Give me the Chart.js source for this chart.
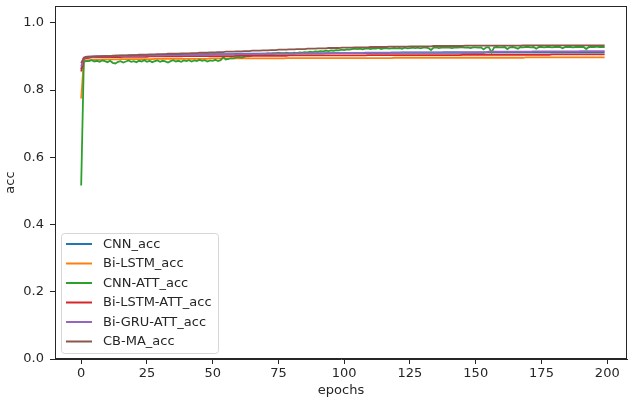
<!DOCTYPE html>
<html>
<head>
<meta charset="utf-8">
<script src="https://cdn.jsdelivr.net/npm/chart.js@4.4.1/dist/chart.umd.min.js"></script>
<style>
html,body{margin:0;padding:0;background:#fff;}
#wrap{width:628px;height:399px;}
</style>
</head>
<body>
<div id="wrap"><canvas id="c" width="628" height="399"></canvas></div>
<script>
const epochs = Array.from({length: 200}, (_, i) => i);
const xTicks = [0, 25, 50, 75, 100, 125, 150, 175, 200];
const yTicks = [0.0, 0.2, 0.4, 0.6, 0.8, 1.0];
const seriesNames = ["CNN_acc", "Bi-LSTM_acc", "CNN-ATT_acc", "Bi-LSTM-ATT_acc", "Bi-GRU-ATT_acc", "CB-MA_acc"];
const seriesColors = ["#1f77b4", "#ff7f0e", "#2ca02c", "#d62728", "#9467bd", "#8c564b"];

const cnnAcc = [
0.862,0.894,0.897,0.898,0.899,0.899,0.900,0.900,0.900,0.901,
0.901,0.901,0.901,0.902,0.902,0.902,0.902,0.902,0.903,0.903,
0.903,0.903,0.903,0.903,0.904,0.904,0.904,0.904,0.904,0.904,
0.904,0.905,0.905,0.905,0.905,0.905,0.905,0.905,0.905,0.906,
0.906,0.906,0.906,0.906,0.906,0.906,0.906,0.906,0.907,0.907,
0.907,0.907,0.907,0.907,0.907,0.907,0.907,0.907,0.907,0.908,
0.908,0.908,0.908,0.908,0.908,0.908,0.908,0.908,0.908,0.908,
0.908,0.908,0.908,0.908,0.909,0.909,0.909,0.909,0.909,0.909,
0.909,0.909,0.909,0.909,0.909,0.909,0.909,0.909,0.909,0.909,
0.909,0.909,0.909,0.910,0.910,0.910,0.910,0.910,0.910,0.910,
0.910,0.910,0.910,0.910,0.910,0.910,0.910,0.910,0.910,0.910,
0.910,0.910,0.910,0.910,0.910,0.910,0.910,0.910,0.911,0.911,
0.911,0.911,0.911,0.911,0.911,0.911,0.911,0.911,0.911,0.911,
0.911,0.911,0.911,0.911,0.911,0.911,0.911,0.911,0.911,0.911,
0.911,0.911,0.911,0.911,0.911,0.911,0.911,0.911,0.911,0.911,
0.911,0.911,0.911,0.911,0.912,0.912,0.912,0.912,0.912,0.912,
0.912,0.912,0.912,0.912,0.912,0.912,0.912,0.912,0.912,0.912,
0.912,0.912,0.912,0.912,0.912,0.912,0.912,0.912,0.912,0.912,
0.912,0.912,0.912,0.912,0.912,0.912,0.912,0.912,0.912,0.912,
0.912,0.912,0.912,0.912,0.912,0.912,0.912,0.912,0.912,0.912
];

const biLstmAcc = [
0.775,0.884,0.888,0.889,0.890,0.890,0.890,0.890,0.891,0.891,
0.891,0.891,0.891,0.891,0.891,0.892,0.892,0.892,0.892,0.892,
0.892,0.892,0.892,0.892,0.892,0.892,0.892,0.892,0.893,0.893,
0.893,0.893,0.893,0.893,0.893,0.893,0.893,0.893,0.893,0.893,
0.893,0.893,0.893,0.893,0.893,0.893,0.893,0.893,0.893,0.894,
0.894,0.894,0.894,0.894,0.894,0.894,0.894,0.894,0.894,0.894,
0.894,0.894,0.894,0.894,0.894,0.894,0.894,0.894,0.894,0.894,
0.894,0.894,0.894,0.894,0.894,0.894,0.894,0.894,0.895,0.895,
0.895,0.895,0.895,0.895,0.895,0.895,0.895,0.895,0.895,0.895,
0.895,0.895,0.895,0.895,0.895,0.895,0.895,0.895,0.895,0.895,
0.895,0.895,0.895,0.895,0.895,0.895,0.895,0.895,0.895,0.895,
0.895,0.895,0.895,0.895,0.895,0.895,0.895,0.895,0.895,0.896,
0.896,0.896,0.896,0.896,0.896,0.896,0.896,0.896,0.896,0.896,
0.896,0.896,0.896,0.896,0.896,0.896,0.896,0.896,0.896,0.896,
0.896,0.896,0.896,0.896,0.896,0.896,0.896,0.896,0.896,0.896,
0.896,0.896,0.896,0.896,0.896,0.896,0.896,0.896,0.896,0.896,
0.896,0.896,0.896,0.896,0.896,0.896,0.896,0.896,0.896,0.897,
0.897,0.897,0.897,0.897,0.897,0.897,0.897,0.897,0.897,0.897,
0.897,0.897,0.897,0.897,0.897,0.897,0.897,0.897,0.897,0.897,
0.897,0.897,0.897,0.897,0.897,0.897,0.897,0.897,0.897,0.897
];

const cnnAttAcc = [
0.516,0.884,0.887,0.886,0.889,0.885,0.887,0.884,0.888,0.886,
0.883,0.887,0.881,0.879,0.884,0.886,0.882,0.885,0.888,0.884,
0.886,0.883,0.887,0.885,0.889,0.884,0.887,0.883,0.886,0.888,
0.884,0.887,0.885,0.882,0.886,0.889,0.885,0.887,0.884,0.888,
0.886,0.889,0.885,0.888,0.886,0.890,0.887,0.889,0.885,0.888,
0.887,0.890,0.886,0.889,0.898,0.891,0.893,0.895,0.894,0.897,
0.898,0.896,0.899,0.901,0.900,0.903,0.905,0.904,0.906,0.908,
0.907,0.909,0.908,0.910,0.909,0.911,0.910,0.909,0.911,0.910,
0.909,0.911,0.910,0.912,0.911,0.913,0.912,0.914,0.913,0.915,
0.914,0.916,0.915,0.917,0.916,0.918,0.917,0.919,0.918,0.920,
0.919,0.921,0.920,0.922,0.923,0.922,0.923,0.921,0.923,0.924,
0.922,0.924,0.923,0.925,0.922,0.924,0.925,0.923,0.924,0.925,
0.924,0.925,0.923,0.926,0.924,0.925,0.926,0.925,0.926,0.924,
0.926,0.926,0.925,0.919,0.926,0.927,0.925,0.926,0.926,0.927,
0.926,0.925,0.927,0.926,0.927,0.927,0.926,0.927,0.925,0.927,
0.927,0.926,0.927,0.921,0.927,0.927,0.912,0.927,0.928,0.927,
0.927,0.928,0.922,0.927,0.928,0.926,0.923,0.928,0.927,0.928,
0.928,0.927,0.928,0.923,0.928,0.928,0.927,0.928,0.928,0.927,
0.928,0.928,0.928,0.924,0.928,0.928,0.928,0.927,0.928,0.928,
0.928,0.928,0.922,0.928,0.928,0.928,0.929,0.928,0.928,0.928
];

const biLstmAttAcc = [
0.855,0.892,0.895,0.896,0.897,0.897,0.897,0.897,0.898,0.898,
0.898,0.898,0.898,0.898,0.898,0.898,0.899,0.899,0.899,0.899,
0.899,0.899,0.899,0.899,0.899,0.899,0.900,0.900,0.900,0.900,
0.900,0.900,0.900,0.900,0.900,0.900,0.900,0.900,0.900,0.901,
0.901,0.901,0.901,0.901,0.901,0.901,0.901,0.901,0.901,0.901,
0.901,0.901,0.901,0.901,0.901,0.901,0.901,0.901,0.901,0.902,
0.902,0.902,0.902,0.902,0.902,0.902,0.902,0.902,0.902,0.902,
0.902,0.902,0.902,0.902,0.902,0.902,0.902,0.902,0.902,0.903,
0.903,0.903,0.903,0.903,0.903,0.903,0.903,0.903,0.903,0.903,
0.903,0.903,0.903,0.903,0.903,0.903,0.903,0.903,0.903,0.903,
0.903,0.903,0.903,0.903,0.903,0.903,0.903,0.903,0.903,0.904,
0.904,0.904,0.904,0.904,0.904,0.904,0.904,0.904,0.904,0.904,
0.904,0.904,0.904,0.904,0.904,0.904,0.904,0.904,0.904,0.904,
0.904,0.904,0.904,0.904,0.904,0.904,0.904,0.904,0.904,0.904,
0.904,0.904,0.904,0.904,0.904,0.905,0.905,0.905,0.905,0.905,
0.905,0.905,0.905,0.905,0.905,0.905,0.905,0.905,0.905,0.905,
0.905,0.905,0.905,0.905,0.905,0.905,0.905,0.905,0.905,0.905,
0.905,0.905,0.905,0.905,0.905,0.905,0.905,0.905,0.905,0.906,
0.906,0.906,0.906,0.906,0.906,0.906,0.906,0.906,0.906,0.906,
0.906,0.906,0.906,0.906,0.906,0.906,0.906,0.906,0.906,0.906
];

const biGruAttAcc = [
0.870,0.896,0.898,0.899,0.899,0.899,0.900,0.900,0.900,0.900,
0.900,0.900,0.901,0.901,0.901,0.901,0.901,0.901,0.902,0.902,
0.902,0.902,0.902,0.902,0.902,0.903,0.903,0.903,0.903,0.903,
0.903,0.903,0.904,0.904,0.904,0.904,0.904,0.904,0.904,0.904,
0.905,0.905,0.905,0.905,0.905,0.905,0.905,0.905,0.905,0.905,
0.906,0.906,0.906,0.906,0.906,0.906,0.906,0.906,0.906,0.906,
0.907,0.907,0.907,0.907,0.907,0.907,0.907,0.907,0.907,0.907,
0.908,0.908,0.908,0.908,0.908,0.908,0.908,0.908,0.908,0.908,
0.908,0.908,0.909,0.909,0.909,0.909,0.909,0.909,0.909,0.909,
0.909,0.909,0.909,0.909,0.909,0.910,0.910,0.910,0.910,0.910,
0.910,0.910,0.910,0.910,0.910,0.910,0.910,0.910,0.911,0.911,
0.911,0.911,0.911,0.911,0.911,0.911,0.911,0.911,0.911,0.911,
0.911,0.911,0.912,0.912,0.912,0.912,0.912,0.912,0.912,0.912,
0.912,0.912,0.912,0.912,0.912,0.912,0.912,0.912,0.913,0.913,
0.913,0.913,0.913,0.913,0.913,0.913,0.913,0.913,0.913,0.913,
0.913,0.913,0.913,0.913,0.913,0.914,0.914,0.914,0.914,0.914,
0.914,0.914,0.914,0.914,0.914,0.914,0.914,0.914,0.914,0.914,
0.914,0.914,0.915,0.915,0.915,0.915,0.915,0.915,0.915,0.915,
0.915,0.915,0.915,0.915,0.915,0.915,0.915,0.915,0.915,0.915,
0.916,0.916,0.916,0.916,0.916,0.916,0.916,0.916,0.916,0.916
];

const cbMaAcc = [
0.880,0.896,0.899,0.899,0.899,0.900,0.900,0.900,0.901,0.901,
0.901,0.901,0.902,0.902,0.902,0.903,0.903,0.903,0.903,0.904,
0.904,0.904,0.905,0.905,0.905,0.905,0.906,0.906,0.906,0.907,
0.907,0.907,0.907,0.908,0.908,0.908,0.908,0.908,0.909,0.909,
0.909,0.909,0.910,0.910,0.910,0.911,0.911,0.911,0.911,0.912,
0.912,0.912,0.913,0.913,0.913,0.914,0.914,0.914,0.914,0.915,
0.915,0.915,0.916,0.916,0.916,0.917,0.917,0.917,0.917,0.918,
0.918,0.918,0.919,0.919,0.919,0.920,0.920,0.920,0.920,0.921,
0.921,0.921,0.922,0.922,0.922,0.922,0.923,0.923,0.923,0.923,
0.924,0.924,0.924,0.924,0.925,0.925,0.925,0.925,0.925,0.926,
0.926,0.926,0.926,0.926,0.927,0.927,0.927,0.927,0.927,0.927,
0.928,0.928,0.928,0.928,0.928,0.928,0.928,0.929,0.929,0.929,
0.929,0.929,0.929,0.929,0.929,0.930,0.930,0.930,0.930,0.930,
0.930,0.930,0.930,0.930,0.931,0.931,0.931,0.931,0.931,0.931,
0.931,0.931,0.931,0.931,0.931,0.931,0.932,0.932,0.932,0.932,
0.932,0.932,0.932,0.932,0.932,0.932,0.932,0.932,0.932,0.932,
0.932,0.932,0.932,0.932,0.932,0.932,0.932,0.932,0.933,0.933,
0.933,0.933,0.933,0.933,0.933,0.933,0.933,0.933,0.933,0.933,
0.933,0.933,0.933,0.933,0.933,0.933,0.933,0.933,0.933,0.933,
0.933,0.933,0.933,0.933,0.933,0.933,0.933,0.933,0.933,0.933
];

const seriesValues = [cnnAcc, biLstmAcc, cnnAttAcc, biLstmAttAcc, biGruAttAcc, cbMaAcc];

const FONT = "'DejaVu Sans', sans-serif";
const AXIS_COLOR = '#262626';

const framePlugin = {
  id: 'frame',
  afterDraw(chart) {
    const {ctx, chartArea: a} = chart;
    ctx.save();
    ctx.strokeStyle = AXIS_COLOR;
    ctx.lineWidth = 1;
    ctx.strokeRect(Math.round(a.left) + 0.5, Math.round(a.top) + 0.5, Math.round(a.right - a.left) - 1, Math.round(a.bottom - a.top) - 1);
    ctx.restore();
  }
};

const legendPlugin = {
  id: 'mplLegend',
  afterDraw(chart) {
    const {ctx, chartArea: a} = chart;
    const ds = chart.data.datasets;
    const boxX = a.left + 6, boxW = 157;
    const rowH = 19.5;
    const boxH = rowH * ds.length + 3;
    const boxY = a.bottom - 6 - boxH;
    ctx.save();
    ctx.beginPath();
    if (ctx.roundRect) ctx.roundRect(boxX + 0.5, boxY + 0.5, boxW, boxH, 3);
    else ctx.rect(boxX + 0.5, boxY + 0.5, boxW, boxH);
    ctx.fillStyle = 'rgba(255,255,255,0.8)';
    ctx.fill();
    ctx.strokeStyle = '#d6d6d6';
    ctx.lineWidth = 1;
    ctx.stroke();
    ctx.font = '13px ' + FONT;
    ctx.textBaseline = 'middle';
    ctx.textAlign = 'left';
    ds.forEach((d, i) => {
      const cy = boxY + 11 + i * rowH;
      ctx.beginPath();
      ctx.strokeStyle = d.borderColor;
      ctx.lineWidth = 2;
      ctx.moveTo(boxX + 5, cy);
      ctx.lineTo(boxX + 31, cy);
      ctx.stroke();
      ctx.fillStyle = '#262626';
      ctx.fillText(d.label, boxX + 42, cy + 0.5);
    });
    ctx.restore();
  }
};

new Chart(document.getElementById('c'), {
  type: 'line',
  data: {
    datasets: seriesNames.map((name, i) => ({
      label: name,
      data: epochs.map((e, j) => ({x: e, y: seriesValues[i][j]})),
      borderColor: seriesColors[i],
      backgroundColor: seriesColors[i],
      borderWidth: 1.8,
      pointRadius: 0,
      tension: 0,
      fill: false,
      order: seriesNames.length - i
    }))
  },
  options: {
    responsive: false,
    devicePixelRatio: 1,
    animation: false,
    layout: {padding: {top: 6, right: 1, left: 0, bottom: 0}},
    plugins: {legend: {display: false}, tooltip: {enabled: false}},
    scales: {
      x: {
        type: 'linear',
        min: -9.95,
        max: 207.5,
        afterBuildTicks: (s) => { s.ticks = xTicks.map(v => ({value: v})); },
        afterFit: (s) => { s.height = 40; s.paddingLeft = 0; s.paddingRight = 0; s.paddingTop = 0; s.paddingBottom = 0; },
        grid: {display: true, drawOnChartArea: false, drawTicks: true, tickLength: 5, color: AXIS_COLOR},
        border: {display: true, color: AXIS_COLOR, width: 1},
        ticks: {color: '#262626', font: {family: FONT, size: 13}, padding: 2, maxRotation: 0, autoSkip: false,
                callback: (v) => String(v)},
        title: {display: true, text: 'epochs', color: '#262626', font: {family: FONT, size: 13}, padding: {top: 0, bottom: 1}}
      },
      y: {
        type: 'linear',
        min: 0,
        max: 1.05,
        afterBuildTicks: (s) => { s.ticks = yTicks.map(v => ({value: v})); },
        afterFit: (s) => { s.width = 55; s.paddingTop = 0; s.paddingBottom = 0; s.paddingLeft = 0; s.paddingRight = 0; },
        grid: {display: true, drawOnChartArea: false, drawTicks: true, tickLength: 5, color: AXIS_COLOR},
        border: {display: true, color: AXIS_COLOR, width: 1},
        ticks: {color: '#262626', font: {family: FONT, size: 13}, padding: 6, autoSkip: false,
                callback: (v) => Number(v).toFixed(1)},
        title: {display: true, text: 'acc', color: '#262626', font: {family: FONT, size: 13}, padding: {top: 3, bottom: 0}}
      }
    }
  },
  plugins: [framePlugin, legendPlugin]
});
</script>
</body>
</html>
